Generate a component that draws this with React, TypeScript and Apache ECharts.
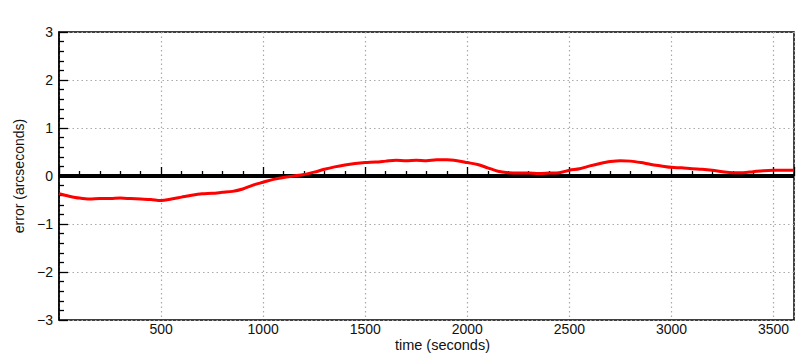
import React, { useEffect, useRef } from "react";
import * as echarts from "echarts";

const times = [
  0, 50, 100, 150, 200, 250, 300, 350, 400, 450, 500, 550, 600, 650, 700, 750, 800, 850, 900, 950,
  1000, 1050, 1100, 1150, 1200, 1250, 1300, 1350, 1400, 1450, 1500, 1550, 1600, 1650, 1700, 1750,
  1800, 1850, 1900, 1950, 2000, 2050, 2100, 2150, 2200, 2250, 2300, 2350, 2400, 2450, 2500, 2550,
  2600, 2650, 2700, 2750, 2800, 2850, 2900, 2950, 3000, 3050, 3100, 3150, 3200, 3250, 3300, 3350,
  3400, 3450, 3500, 3550, 3600,
];
const errors = [
  -0.37, -0.42, -0.46, -0.48, -0.47, -0.47, -0.46, -0.47, -0.48, -0.49, -0.51, -0.48, -0.44, -0.4,
  -0.37, -0.36, -0.34, -0.32, -0.27, -0.19, -0.13, -0.07, -0.03, 0.0, 0.03, 0.08, 0.14, 0.19, 0.23,
  0.26, 0.28, 0.29, 0.31, 0.33, 0.32, 0.33, 0.32, 0.34, 0.34, 0.32, 0.28, 0.24, 0.17, 0.1, 0.07,
  0.06, 0.06, 0.05, 0.06, 0.07, 0.12, 0.15, 0.21, 0.26, 0.3, 0.32, 0.31, 0.28, 0.24, 0.21, 0.18,
  0.17, 0.15, 0.14, 0.12, 0.09, 0.07, 0.07, 0.09, 0.11, 0.12, 0.12, 0.12,
];
const zeroLine = [
  [0, 0],
  [3600, 0],
];
const xLabel = "time (seconds)";
const yLabel = "error (arcseconds)";

const font = "'Liberation Sans', Arial, sans-serif";

export default function App() {
  const ref = useRef<HTMLDivElement>(null);
  useEffect(() => {
    if (!ref.current) return;
    const chart = echarts.init(ref.current, null, { renderer: "svg" });
    chart.setOption({
      animation: false,
      backgroundColor: "#ffffff",
      grid: {
        left: 59,
        right: 6,
        top: 32,
        bottom: 36,
        show: true,
        borderColor: "#000",
        borderWidth: 1.5,
      },
      xAxis: {
        type: "value",
        min: 0,
        max: 3600,
        interval: 500,
        axisLine: { show: true, lineStyle: { color: "#000", width: 1.5 } },
        axisTick: { show: true, inside: true, length: 9, lineStyle: { color: "#000", width: 1.3 } },
        minorTick: { show: true, splitNumber: 5, length: 5, lineStyle: { color: "#000", width: 1.3 } },
        axisLabel: {
          showMinLabel: false,
          showMaxLabel: false,
          margin: 2,
          color: "#111",
          fontSize: 14,
          fontFamily: font,
          formatter: (v: number) => String(v),
        },
        splitLine: { show: true, lineStyle: { color: "#aaa", type: [1.5, 3], width: 1.2 } },
      },
      yAxis: {
        type: "value",
        min: -3,
        max: 3,
        interval: 1,
        name: yLabel,
        nameLocation: "middle",
        nameGap: 26,
        nameTextStyle: { color: "#111", fontSize: 14, fontFamily: font },
        axisLine: { show: true, lineStyle: { color: "#000", width: 1.5 } },
        axisTick: { show: true, inside: true, length: 9, lineStyle: { color: "#000", width: 1.3 } },
        minorTick: { show: true, splitNumber: 5, length: 5, lineStyle: { color: "#000", width: 1.3 } },
        axisLabel: {
          margin: 6,
          color: "#111",
          fontSize: 14,
          fontFamily: font,
          formatter: (v: number) => (v < 0 ? "\u2212" + Math.abs(v) : String(v)),
        },
        splitLine: { show: true, lineStyle: { color: "#aaa", type: [1.5, 3], width: 1.2 } },
      },
      graphic: [
        {
          type: "text",
          right: 310,
          top: 337,
          style: {
            text: xLabel,
            fill: "#111",
            fontSize: 14.5,
            fontFamily: font,
          },
        },
      ],
      series: [
        {
          type: "line",
          data: zeroLine,
          symbol: "none",
          lineStyle: { color: "#000", width: 4 },
          silent: true,
          z: 2,
        },
        {
          type: "line",
          data: times.map((t, i) => [t, errors[i]]),
          symbol: "none",
          smooth: 0.3,
          lineStyle: { color: "#ff0000", width: 3 },
          z: 3,
        },
      ],
    });
    return () => chart.dispose();
  }, []);
  return (
    <div
      ref={ref}
      style={{ position: "fixed", left: 0, top: 0, width: 800, height: 356, background: "#fff" }}
    />
  );
}
